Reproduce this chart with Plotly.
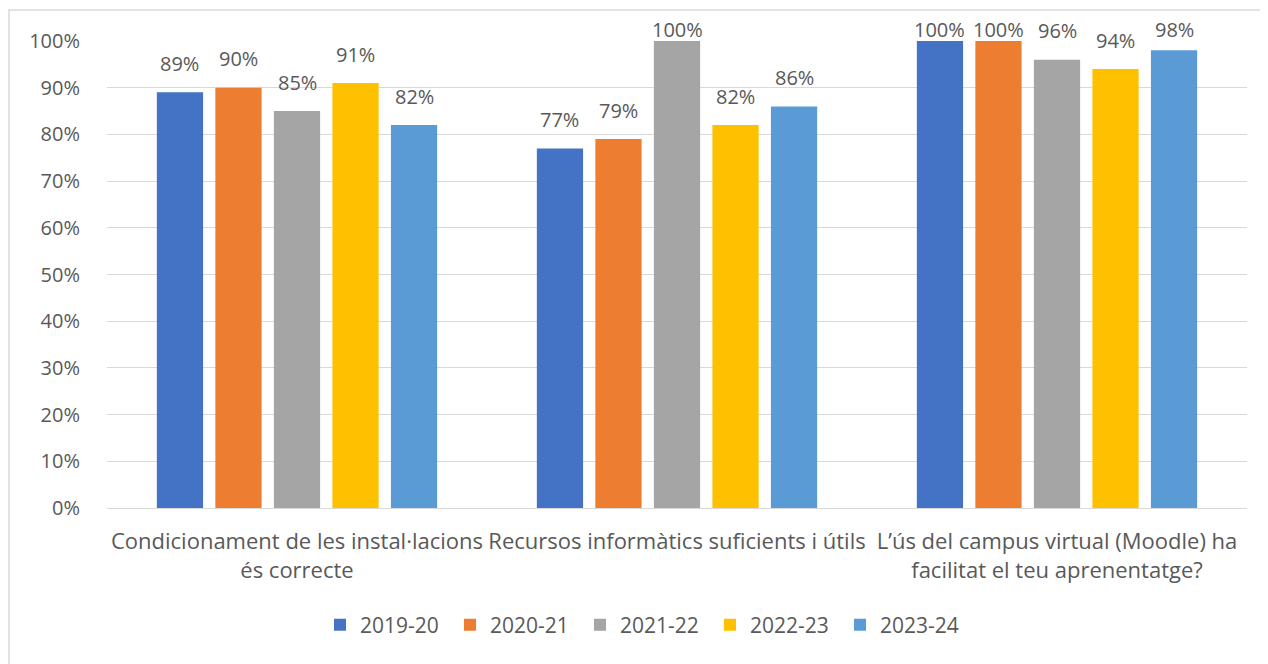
import plotly.graph_objects as go

categories = [
    "Condicionament de les instal·lacions<br>és correcte",
    "Recursos informàtics suficients i útils",
    "L’ús del campus virtual (Moodle) ha<br>facilitat el teu aprenentatge?",
]
series_names = ["2019-20", "2020-21", "2021-22", "2022-23", "2023-24"]
values = {
    "2019-20": [89, 77, 100],
    "2020-21": [90, 79, 100],
    "2021-22": [85, 100, 96],
    "2022-23": [91, 82, 94],
    "2023-24": [82, 86, 98],
}
colors = ["#4472C4", "#ED7D31", "#A5A5A5", "#FFC000", "#5B9BD5"]
y_ticks = list(range(0, 101, 10))
y_tick_labels = [f"{t}%" for t in y_ticks]

FONT = "Open Sans"
TXT = "#595959"

# page body has an 8px margin: figure is offset by (8, 8)
W, H = 1260, 656
ml, mr, mt, mb = 99, 21, 33, 156
pw = W - ml - mr
ph = H - mt - mb

BARGAP = 0.23
n = len(series_names)
slot_px = pw / len(categories) * (1 - BARGAP) / n
LABEL_CLAMP = 96.2  # labels of taller bars are held inside the chart area

fig = go.Figure()
annotations = []
for i, (name, col) in enumerate(zip(series_names, colors)):
    fig.add_trace(go.Bar(
        name=name,
        x=categories,
        y=values[name],
        marker=dict(color=col, line=dict(width=0)),
        cliponaxis=False,
    ))
    for cat, v in zip(categories, values[name]):
        annotations.append(dict(
            x=cat, y=min(v, LABEL_CLAMP), xref="x", yref="y",
            xshift=(i - (n - 1) / 2) * slot_px, yshift=29,
            text=f"{v}%", showarrow=False,
            xanchor="center", yanchor="middle",
            font=dict(family=FONT, size=20, color=TXT),
        ))

fig.update_layout(
    width=W, height=H,
    margin=dict(l=ml, r=mr, t=mt, b=mb, autoexpand=False),
    paper_bgcolor="white",
    plot_bgcolor="white",
    barmode="group",
    bargap=BARGAP,
    bargroupgap=0.21,
    font=dict(family=FONT, size=20, color=TXT),
    showlegend=True,
    legend=dict(
        orientation="h",
        x=(320 - 8 - ml) / pw, xanchor="left",
        y=-(617 - (H - mb)) / ph, yanchor="middle",
        font=dict(family=FONT, size=21, color=TXT),
        itemwidth=30,
        entrywidth=85, entrywidthmode="pixels",
        traceorder="normal",
    ),
    xaxis=dict(
        showgrid=False,
        showline=False,
        ticks="",
        ticklabelstandoff=18,
        tickfont=dict(family=FONT, size=22, color=TXT),
        automargin=False,
    ),
    yaxis=dict(
        range=[0, 100],
        tickvals=y_ticks,
        ticktext=y_tick_labels,
        showgrid=True,
        gridcolor="#D9D9D9",
        gridwidth=1,
        zeroline=True,
        zerolinecolor="#D9D9D9",
        zerolinewidth=1,
        showline=False,
        ticks="",
        ticklabelstandoff=26,
        tickfont=dict(family=FONT, size=20, color=TXT),
        automargin=False,
    ),
    annotations=annotations,
    shapes=[dict(
        type="rect", xref="paper", yref="paper",
        x0=(1 - ml) / pw, x1=(W + 20 - ml) / pw,
        y0=-(H + 20 - (H - mb)) / ph, y1=1 + (mt - 2) / ph,
        line=dict(color="#D9D9D9", width=1.5),
        fillcolor="rgba(0,0,0,0)",
        layer="below",
    )],
)

fig.write_html("out.html")
